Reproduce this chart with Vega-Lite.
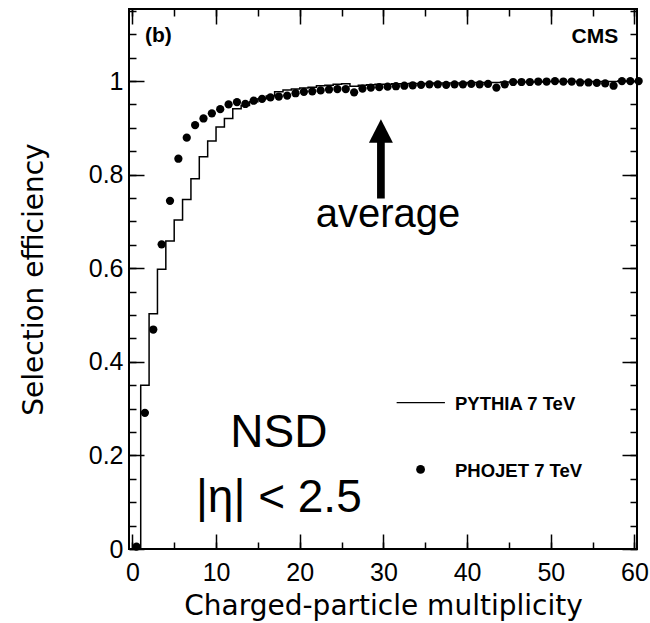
{
  "$schema": "https://vega.github.io/schema/vega-lite/v6.json",
  "width": 508,
  "height": 540,
  "autosize": {"type": "none"},
  "padding": {"left": 129, "top": 9, "right": 13, "bottom": 74},
  "background": "white",
  "config": {
    "view": {"stroke": "black", "strokeWidth": 2},
    "axis": {"tickColor": "black", "tickWidth": 1.5, "labelColor": "black", "grid": false, "domain": false, "labelFont": "Liberation Sans", "labelFontSize": 25, "titleColor": "black"}
  },
  "datasets": {
    "pythia": [
      {"n": 0, "eff": 0.0}, {"n": 1, "eff": 0.35}, {"n": 2, "eff": 0.503}, {"n": 3, "eff": 0.598},
      {"n": 4, "eff": 0.658}, {"n": 5, "eff": 0.703}, {"n": 6, "eff": 0.747}, {"n": 7, "eff": 0.791},
      {"n": 8, "eff": 0.838}, {"n": 9, "eff": 0.872}, {"n": 10, "eff": 0.902}, {"n": 11, "eff": 0.92},
      {"n": 12, "eff": 0.941}, {"n": 13, "eff": 0.948}, {"n": 14, "eff": 0.956}, {"n": 15, "eff": 0.962},
      {"n": 16, "eff": 0.968}, {"n": 17, "eff": 0.977}, {"n": 18, "eff": 0.981}, {"n": 19, "eff": 0.983},
      {"n": 20, "eff": 0.985}, {"n": 21, "eff": 0.987}, {"n": 22, "eff": 0.99}, {"n": 23, "eff": 0.991},
      {"n": 24, "eff": 0.993}, {"n": 25, "eff": 0.994}, {"n": 26, "eff": 0.989}, {"n": 27, "eff": 0.991},
      {"n": 28, "eff": 0.992}, {"n": 29, "eff": 0.993}, {"n": 30, "eff": 0.993}, {"n": 31, "eff": 0.994},
      {"n": 32, "eff": 0.994}, {"n": 33, "eff": 0.995}, {"n": 34, "eff": 0.995}, {"n": 35, "eff": 0.995},
      {"n": 36, "eff": 0.996}, {"n": 37, "eff": 0.996}, {"n": 38, "eff": 0.996}, {"n": 39, "eff": 0.996},
      {"n": 40, "eff": 0.997}, {"n": 41, "eff": 0.997}, {"n": 42, "eff": 0.997}, {"n": 43, "eff": 0.997},
      {"n": 44, "eff": 0.998}, {"n": 45, "eff": 0.998}, {"n": 46, "eff": 0.998}, {"n": 47, "eff": 0.998},
      {"n": 48, "eff": 0.998}, {"n": 49, "eff": 0.999}, {"n": 50, "eff": 0.999}, {"n": 51, "eff": 0.999},
      {"n": 52, "eff": 0.999}, {"n": 53, "eff": 0.999}, {"n": 54, "eff": 0.999}, {"n": 55, "eff": 0.999},
      {"n": 56, "eff": 0.999}, {"n": 57, "eff": 0.999}, {"n": 58, "eff": 1.0}, {"n": 59, "eff": 1.0},
      {"n": 60, "eff": 1.0}
    ],
    "phojet": [
      {"mult": 0.5, "eff": 0.005}, {"mult": 1.5, "eff": 0.291}, {"mult": 2.5, "eff": 0.469}, {"mult": 3.5, "eff": 0.651},
      {"mult": 4.5, "eff": 0.744}, {"mult": 5.5, "eff": 0.834}, {"mult": 6.5, "eff": 0.879}, {"mult": 7.5, "eff": 0.906},
      {"mult": 8.5, "eff": 0.92}, {"mult": 9.5, "eff": 0.931}, {"mult": 10.5, "eff": 0.94}, {"mult": 11.5, "eff": 0.95},
      {"mult": 12.5, "eff": 0.955}, {"mult": 13.5, "eff": 0.951}, {"mult": 14.5, "eff": 0.958}, {"mult": 15.5, "eff": 0.962},
      {"mult": 16.5, "eff": 0.965}, {"mult": 17.5, "eff": 0.967}, {"mult": 18.5, "eff": 0.969}, {"mult": 19.5, "eff": 0.974},
      {"mult": 20.5, "eff": 0.977}, {"mult": 21.5, "eff": 0.978}, {"mult": 22.5, "eff": 0.98}, {"mult": 23.5, "eff": 0.982},
      {"mult": 24.5, "eff": 0.983}, {"mult": 25.5, "eff": 0.983}, {"mult": 26.5, "eff": 0.976}, {"mult": 27.5, "eff": 0.984},
      {"mult": 28.5, "eff": 0.986}, {"mult": 29.5, "eff": 0.987}, {"mult": 30.5, "eff": 0.988}, {"mult": 31.5, "eff": 0.989},
      {"mult": 32.5, "eff": 0.99}, {"mult": 33.5, "eff": 0.991}, {"mult": 34.5, "eff": 0.992}, {"mult": 35.5, "eff": 0.993},
      {"mult": 36.5, "eff": 0.993}, {"mult": 37.5, "eff": 0.992}, {"mult": 38.5, "eff": 0.993}, {"mult": 39.5, "eff": 0.993},
      {"mult": 40.5, "eff": 0.994}, {"mult": 41.5, "eff": 0.993}, {"mult": 42.5, "eff": 0.994}, {"mult": 43.5, "eff": 0.986},
      {"mult": 44.5, "eff": 0.993}, {"mult": 45.5, "eff": 0.998}, {"mult": 46.5, "eff": 0.998}, {"mult": 47.5, "eff": 0.998},
      {"mult": 48.5, "eff": 0.999}, {"mult": 49.5, "eff": 0.999}, {"mult": 50.5, "eff": 1.0}, {"mult": 51.5, "eff": 0.999},
      {"mult": 52.5, "eff": 0.999}, {"mult": 53.5, "eff": 0.997}, {"mult": 54.5, "eff": 0.997}, {"mult": 55.5, "eff": 0.996},
      {"mult": 56.5, "eff": 0.995}, {"mult": 57.5, "eff": 0.99}, {"mult": 58.5, "eff": 1.0}, {"mult": 59.5, "eff": 1.0},
      {"mult": 60.5, "eff": 1.0}
    ],
    "one": [{}]
  },
  "layer": [
    {
      "data": {"name": "pythia"},
      "mark": {"type": "line", "interpolate": "step-after", "color": "black", "strokeWidth": 1.5},
      "encoding": {
        "x": {"field": "n", "type": "quantitative", "scale": {"domain": [-0.4, 60.3], "nice": false, "zero": false},
          "axis": {"orient": "bottom", "values": [0, 10, 20, 30, 40, 50, 60], "tickSize": 15, "offset": -15, "labelPadding": 11, "labelFlush": false, "labelOverlap": false,
            "title": "Charged-particle multiplicity", "titleFont": "DejaVu Sans", "titleFontSize": 28, "titleFontWeight": "normal", "titleBaseline": "alphabetic", "titleY": 80}},
        "y": {"field": "eff", "type": "quantitative", "scale": {"domain": [0, 1.154], "nice": false, "zero": false},
          "axis": {"orient": "left", "values": [0, 0.2, 0.4, 0.6, 0.8, 1], "tickSize": 15, "offset": -15, "labelPadding": 6, "labelOverlap": false,
            "labelExpr": "format(datum.value, '~g')",
            "title": "Selection efficiency", "titleFont": "DejaVu Sans", "titleFontSize": 28, "titleFontWeight": "normal", "titleBaseline": "alphabetic", "titleX": -102}}
      }
    },
    {
      "data": {"name": "phojet"},
      "mark": {"type": "point", "filled": true, "color": "black", "opacity": 1, "size": 68},
      "encoding": {
        "x": {"field": "mult", "type": "quantitative", "scale": {"domain": [-0.4, 60.3], "nice": false, "zero": false},
          "axis": {"orient": "bottom", "values": [0, 5, 10, 15, 20, 25, 30, 35, 40, 45, 50, 55, 60], "tickSize": 7, "offset": -7, "labels": false, "title": null}},
        "y": {"field": "eff", "type": "quantitative", "scale": {"domain": [0, 1.154], "nice": false, "zero": false},
          "axis": {"orient": "left", "values": [0, 0.05, 0.1, 0.15, 0.2, 0.25, 0.3, 0.35, 0.4, 0.45, 0.5, 0.55, 0.6, 0.65, 0.7, 0.75, 0.8, 0.85, 0.9, 0.95, 1, 1.05, 1.1, 1.15], "tickSize": 7, "offset": -7, "labels": false, "title": null}}
      }
    },
    {
      "data": {"name": "one"},
      "mark": {"type": "rule", "color": "black", "strokeWidth": 7.7},
      "encoding": {
        "x": {"datum": 29.7, "type": "quantitative", "scale": {"domain": [-0.4, 60.3], "nice": false, "zero": false},
          "axis": {"orient": "top", "values": [0, 10, 20, 30, 40, 50, 60], "tickSize": 15, "offset": -15, "labels": false, "title": null}},
        "y": {"datum": 0.749, "type": "quantitative", "scale": {"domain": [0, 1.154], "nice": false, "zero": false},
          "axis": {"orient": "right", "values": [0, 0.2, 0.4, 0.6, 0.8, 1], "tickSize": 15, "offset": -15, "labels": false, "title": null}},
        "y2": {"datum": 0.872}
      }
    },
    {
      "data": {"name": "one"},
      "mark": {"type": "point", "shape": "M0,-0.975L1,0.975L-1,0.975Z", "filled": true, "color": "black", "opacity": 1, "size": 576},
      "encoding": {
        "x": {"datum": 29.7, "type": "quantitative", "scale": {"domain": [-0.4, 60.3], "nice": false, "zero": false},
          "axis": {"orient": "top", "values": [0, 5, 10, 15, 20, 25, 30, 35, 40, 45, 50, 55, 60], "tickSize": 7, "offset": -7, "labels": false, "title": null}},
        "y": {"datum": 0.8932, "type": "quantitative", "scale": {"domain": [0, 1.154], "nice": false, "zero": false},
          "axis": {"orient": "right", "values": [0, 0.05, 0.1, 0.15, 0.2, 0.25, 0.3, 0.35, 0.4, 0.45, 0.5, 0.55, 0.6, 0.65, 0.7, 0.75, 0.8, 0.85, 0.9, 0.95, 1, 1.05, 1.1, 1.15], "tickSize": 7, "offset": -7, "labels": false, "title": null}}
      }
    },
    {
      "data": {"name": "one"},
      "mark": {"type": "text", "text": "average", "font": "Liberation Sans", "fontSize": 40, "align": "center", "baseline": "alphabetic", "color": "black"},
      "encoding": {
        "x": {"datum": 30.54, "type": "quantitative", "scale": {"domain": [-0.4, 60.3], "nice": false, "zero": false}, "axis": null},
        "y": {"datum": 0.6874, "type": "quantitative", "scale": {"domain": [0, 1.154], "nice": false, "zero": false}, "axis": null}
      }
    },
    {
      "data": {"name": "one"},
      "mark": {"type": "text", "text": "(b)", "font": "Liberation Sans", "fontSize": 21, "fontWeight": "bold", "align": "left", "baseline": "alphabetic", "color": "black"},
      "encoding": {
        "x": {"datum": 1.5, "type": "quantitative", "scale": {"domain": [-0.4, 60.3], "nice": false, "zero": false}, "axis": null},
        "y": {"datum": 1.083, "type": "quantitative", "scale": {"domain": [0, 1.154], "nice": false, "zero": false}, "axis": null}
      }
    },
    {
      "data": {"name": "one"},
      "mark": {"type": "text", "text": "CMS", "font": "Liberation Sans", "fontSize": 21, "fontWeight": "bold", "align": "right", "baseline": "alphabetic", "color": "black"},
      "encoding": {
        "x": {"datum": 58.05, "type": "quantitative", "scale": {"domain": [-0.4, 60.3], "nice": false, "zero": false}, "axis": null},
        "y": {"datum": 1.082, "type": "quantitative", "scale": {"domain": [0, 1.154], "nice": false, "zero": false}, "axis": null}
      }
    },
    {
      "data": {"name": "one"},
      "mark": {"type": "text", "text": "NSD", "font": "Liberation Sans", "fontSize": 46, "align": "center", "baseline": "alphabetic", "color": "black"},
      "encoding": {
        "x": {"datum": 17.5, "type": "quantitative", "scale": {"domain": [-0.4, 60.3], "nice": false, "zero": false}, "axis": null},
        "y": {"datum": 0.2186, "type": "quantitative", "scale": {"domain": [0, 1.154], "nice": false, "zero": false}, "axis": null}
      }
    },
    {
      "data": {"name": "one"},
      "mark": {"type": "text", "text": "|η| < 2.5", "font": "Liberation Sans", "fontSize": 46, "align": "center", "baseline": "alphabetic", "color": "black"},
      "encoding": {
        "x": {"datum": 17.5, "type": "quantitative", "scale": {"domain": [-0.4, 60.3], "nice": false, "zero": false}, "axis": null},
        "y": {"datum": 0.0791, "type": "quantitative", "scale": {"domain": [0, 1.154], "nice": false, "zero": false}, "axis": null}
      }
    },
    {
      "data": {"name": "one"},
      "mark": {"type": "rule", "color": "black", "strokeWidth": 1.2},
      "encoding": {
        "x": {"datum": 31.58, "type": "quantitative", "scale": {"domain": [-0.4, 60.3], "nice": false, "zero": false}, "axis": null},
        "x2": {"datum": 37.35},
        "y": {"datum": 0.3126, "type": "quantitative", "scale": {"domain": [0, 1.154], "nice": false, "zero": false}, "axis": null}
      }
    },
    {
      "data": {"name": "one"},
      "mark": {"type": "point", "filled": true, "color": "black", "opacity": 1, "size": 78},
      "encoding": {
        "x": {"datum": 34.44, "type": "quantitative", "scale": {"domain": [-0.4, 60.3], "nice": false, "zero": false}, "axis": null},
        "y": {"datum": 0.17, "type": "quantitative", "scale": {"domain": [0, 1.154], "nice": false, "zero": false}, "axis": null}
      }
    },
    {
      "data": {"name": "one"},
      "mark": {"type": "text", "text": "PYTHIA 7 TeV", "font": "Liberation Sans", "fontSize": 18.5, "fontWeight": "bold", "align": "left", "baseline": "alphabetic", "color": "black"},
      "encoding": {
        "x": {"datum": 38.55, "type": "quantitative", "scale": {"domain": [-0.4, 60.3], "nice": false, "zero": false}, "axis": null},
        "y": {"datum": 0.297, "type": "quantitative", "scale": {"domain": [0, 1.154], "nice": false, "zero": false}, "axis": null}
      }
    },
    {
      "data": {"name": "one"},
      "mark": {"type": "text", "text": "PHOJET 7 TeV", "font": "Liberation Sans", "fontSize": 18.5, "fontWeight": "bold", "align": "left", "baseline": "alphabetic", "color": "black"},
      "encoding": {
        "x": {"datum": 38.55, "type": "quantitative", "scale": {"domain": [-0.4, 60.3], "nice": false, "zero": false}, "axis": null},
        "y": {"datum": 0.1545, "type": "quantitative", "scale": {"domain": [0, 1.154], "nice": false, "zero": false}, "axis": null}
      }
    }
  ],
  "resolve": {"axis": {"x": "independent", "y": "independent"}}
}
